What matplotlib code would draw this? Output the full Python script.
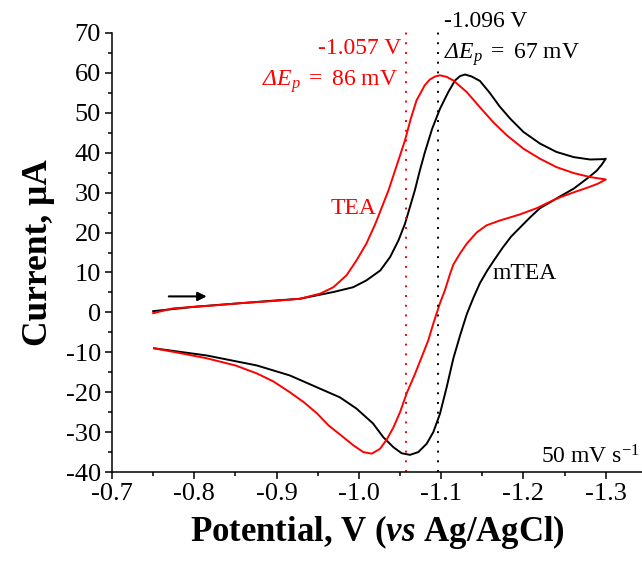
import matplotlib
matplotlib.use("Agg")
import matplotlib.pyplot as plt
from matplotlib.ticker import MultipleLocator, FormatStrFormatter

# ---- cyclic voltammograms (potential in V vs Ag/AgCl, current in uA) ----
# mTEA, forward (cathodic) sweep
mtea_fwd_E = [-0.750, -0.800, -0.856, -0.900, -0.928, -0.969, -0.993, -1.009, -1.026,
              -1.038, -1.048, -1.056, -1.062, -1.068, -1.074, -1.080, -1.089, -1.0985,
              -1.1086, -1.1168, -1.1229, -1.1289, -1.137, -1.147, -1.159, -1.171, -1.184,
              -1.200, -1.220, -1.240, -1.261, -1.281, -1.298, -1.300]
mtea_fwd_I = [0.3, 1.4, 2.3, 3.0, 3.4, 5.1, 6.3, 8.0, 10.5,
              13.9, 18.0, 22.2, 26.4, 30.6, 35.5, 40.0, 46.0, 51.0,
              55.2, 58.1, 59.2, 59.6, 59.1, 58.0, 55.0, 51.6, 48.5,
              45.2, 42.3, 40.2, 38.9, 38.3, 38.4, 38.5]
# mTEA, reverse (anodic) sweep
mtea_rev_E = [-1.300, -1.295, -1.289, -1.279, -1.261, -1.244, -1.220, -1.208, -1.196,
              -1.185, -1.175, -1.165, -1.156, -1.147, -1.139, -1.131, -1.1229, -1.1148,
              -1.1067, -1.0985, -1.0904, -1.0824, -1.0722, -1.0621, -1.052, -1.042, -1.0297,
              -1.017, -0.997, -0.977, -0.957, -0.916, -0.876, -0.815, -0.751]
mtea_rev_I = [38.5, 37.0, 35.5, 33.8, 31.0, 29.0, 26.1, 23.8, 21.3,
              19.0, 16.3, 13.3, 10.5, 7.3, 3.6, -0.5, -5.8, -11.5,
              -18.7, -25.4, -30.0, -32.9, -35.0, -35.7, -35.3, -33.8, -31.3,
              -27.8, -24.1, -21.3, -19.5, -15.8, -13.3, -10.8, -9.0]

# TEA, forward sweep
tea_fwd_E = [-0.750, -0.774, -0.815, -0.856, -0.900, -0.928, -0.953, -0.969, -0.985,
             -0.997, -1.009, -1.020, -1.028, -1.036, -1.048, -1.056, -1.063, -1.070,
             -1.080, -1.086, -1.0925, -1.0985, -1.1067, -1.1148, -1.131, -1.147, -1.163,
             -1.1795, -1.200, -1.220, -1.240, -1.261, -1.281, -1.300]
tea_fwd_I = [-0.2, 1.0, 1.6, 2.3, 2.9, 3.4, 4.7, 6.3, 9.3,
             13.0, 17.2, 22.2, 26.4, 30.6, 38.1, 43.1, 48.5, 53.1,
             56.9, 58.3, 59.1, 59.4, 59.0, 58.1, 55.2, 51.4, 47.7,
             44.4, 41.0, 38.5, 36.4, 34.9, 33.9, 33.3]
# TEA, reverse sweep
tea_rev_E = [-1.300, -1.290, -1.277, -1.260, -1.244, -1.230, -1.216, -1.195, -1.171,
             -1.155, -1.143, -1.131, -1.123, -1.1148, -1.111, -1.1046, -1.0985, -1.0904,
             -1.0843, -1.078, -1.0682, -1.058, -1.050, -1.042, -1.0337, -1.0256, -1.0155,
             -1.0053, -0.9932, -0.977, -0.963, -0.949, -0.933, -0.916, -0.896, -0.876,
             -0.850, -0.815, -0.780, -0.751]
tea_rev_I = [33.3, 32.2, 31.2, 30.0, 28.8, 27.5, 26.1, 24.5, 23.0,
             21.8, 20.0, 17.2, 14.8, 12.0, 9.8, 5.6, 2.3, -2.8,
             -7.0, -10.3, -15.4, -20.3, -25.0, -28.8, -31.9, -34.2, -35.4,
             -35.0, -33.3, -30.6, -28.3, -25.3, -22.5, -20.0, -17.3, -15.3,
             -13.3, -11.5, -10.1, -9.0]

# half-wave potentials and peak separations
tea_E_half, tea_dEp = -1.057, 86
mtea_E_half, mtea_dEp = -1.096, 67
scan_rate = 50

xticks = [-0.7, -0.8, -0.9, -1.0, -1.1, -1.2, -1.3]
yticks = [-40, -30, -20, -10, 0, 10, 20, 30, 40, 50, 60, 70]

plt.rcParams["font.family"] = "Liberation Serif"
plt.rcParams["mathtext.fontset"] = "custom"
plt.rcParams["mathtext.rm"] = "Liberation Serif"
plt.rcParams["mathtext.it"] = "Liberation Serif:italic"
plt.rcParams["mathtext.bf"] = "Liberation Serif:bold"
try:
    plt.rcParams["mathtext.bfit"] = "Liberation Serif:italic:bold"
except KeyError:
    pass
plt.rcParams["axes.unicode_minus"] = False

RED = "#ff0000"

fig = plt.figure(figsize=(6.42, 5.63), dpi=100)
ax = fig.add_axes([0.1745, 0.1616, 0.8255, 0.7798])

ax.plot(mtea_fwd_E + mtea_rev_E, mtea_fwd_I + mtea_rev_I, color="black", lw=1.4,
        solid_joinstyle="round")
ax.plot(tea_fwd_E + tea_rev_E, tea_fwd_I + tea_rev_I, color=RED, lw=1.4,
        solid_joinstyle="round")

# dotted markers at the half-wave potentials
ax.plot([tea_E_half, tea_E_half], [-40, 71], color=RED, lw=1.4,
        linestyle=(0, (1, 4)), clip_on=False)
ax.plot([mtea_E_half, mtea_E_half], [-40, 71], color="black", lw=1.4,
        linestyle=(0, (1, 4)), clip_on=False)

ax.set_xlim(-0.7, -1.344)
ax.set_ylim(-40, 70)
ax.set_xticks(xticks)
ax.set_yticks(yticks)
ax.xaxis.set_minor_locator(MultipleLocator(0.05))
ax.yaxis.set_minor_locator(MultipleLocator(5))
ax.xaxis.set_major_formatter(FormatStrFormatter("%.1f"))
ax.tick_params(which="major", direction="out", length=5, width=1.1, labelsize=19, pad=3)
ax.tick_params(which="minor", direction="out", length=3, width=1.1)

for side in ("top", "right"):
    ax.spines[side].set_visible(False)
for side in ("left", "bottom"):
    ax.spines[side].set_linewidth(1.1)

ax.set_xlabel(r"Potential, V ($\mathbfit{vs}$ Ag/AgCl)", fontsize=25, fontweight="bold",
              labelpad=6)
ax.set_ylabel(r"Current, μA", fontsize=25.5, fontweight="bold", labelpad=8)


def dEp_label(value):
    # italic Delta from the text font, italic E_p and upright value via mathtext
    return r"Δ$\mathit{E}_{\mathit{p}}\ \mathrm{=}\ \mathrm{" + f"{value}" + r"\ mV}$"


# annotations
ax.text(-1.052, 66.0, f"{tea_E_half:.3f} V", color=RED, fontsize=17,
        ha="right", va="center")
ax.text(-1.047, 57.8, dEp_label(tea_dEp), color=RED, fontsize=17, style="italic",
        ha="right", va="center")
ax.text(-1.1035, 73.0, f"{mtea_E_half:.3f} V", color="black", fontsize=17,
        ha="left", va="center", clip_on=False)
ax.text(-1.1035, 64.6, dEp_label(mtea_dEp), color="black", fontsize=17, style="italic",
        ha="left", va="center")
ax.text(-0.994, 26.0, "TEA", color=RED, fontsize=17, ha="center", va="center")
ax.text(-1.2018, 9.8, "mTEA", color="black", fontsize=17, ha="center", va="center")
ax.text(-1.3415, -36.3, f"{scan_rate} mV s" + r"$^{-1}$", color="black", fontsize=17,
        ha="right", va="center")

ax.annotate("", xy=(-0.815, 4.0), xytext=(-0.769, 4.0),
            arrowprops=dict(arrowstyle="-|>", color="black", lw=1.5, mutation_scale=13,
                            shrinkA=0, shrinkB=0))

fig.savefig("out.png", dpi=100)
